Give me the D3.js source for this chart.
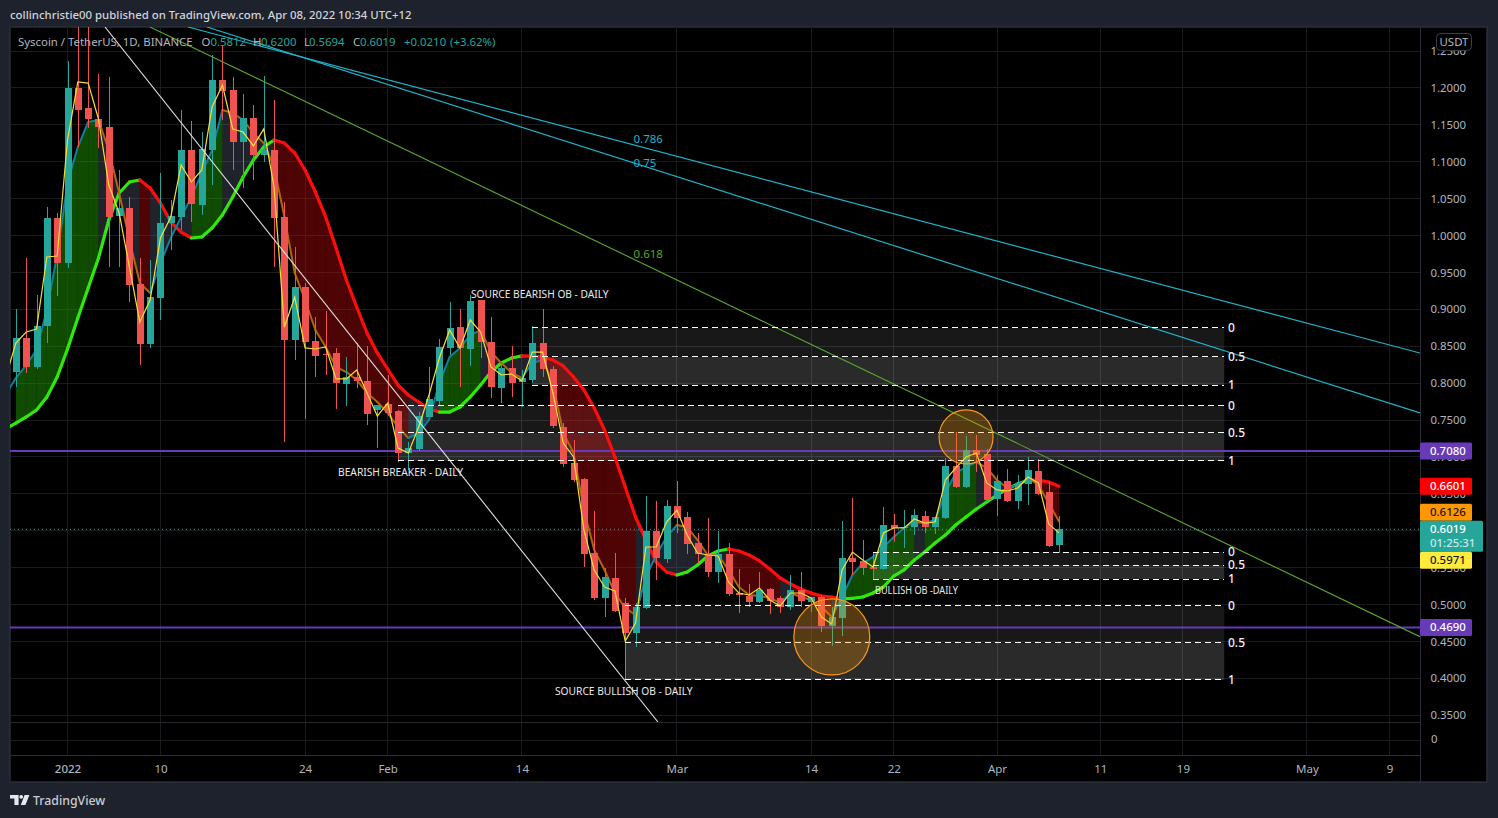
<!DOCTYPE html>
<html><head><meta charset="utf-8">
<script src="https://cdn.jsdelivr.net/npm/d3@7"></script>
<style>html,body{margin:0;padding:0;background:#1e222d;overflow:hidden}svg{display:block}text{font-family:"Noto Sans",sans-serif}</style>
</head><body><svg id="c" width="1498" height="818"></svg>
<script>
// candles start at day -5 (0 = 1 Jan 2022)
const opens=[.8150,.8611,.8218,.8774,1.0237,.9627,1.2000,1.1728,1.1579,1.1470,1.0264,1.0373,.9343,.8530,.9153,1.0169,1.0251,1.1159,1.0413,1.1159,1.2107,1.1972,1.1267,1.1592,1.1091,1.1159,1.0251,.8584,.9302,.8570,.8394,.8408,.7988,.8083,.8029,.7635,.7717,.7622,.7053,.7107,.7541,.7758,.8476,.8760,.8462,.9126,.8557,.7934,.8205,.8015,.8042,.8543,.8191,.7405,.6917,.6700,.5698,.5088,.5359,.5025,.4619,.4958,.5996,.5616,.6335,.6186,.5833,.5684,.5440,.5684,.5156,.5115,.5034,.5210,.5088,.4966,.5197,.5034,.5102,.4709,.4817,.5630,.5589,.5508,.5481,.6077,.6037,.6050,.6199,.6050,.6172,.6877,.6592,.7094,.7039,.6430,.6673,.6402,.6633,.6809,.6524,.5812];
const highs=[.8998,.9695,.9194,1.0386,1.0305,1.2364,1.3056,1.3056,1.2188,1.2148,1.0888,1.0522,.9695,.9668,1.0847,1.0481,1.1700,1.1551,1.1402,1.2446,1.2568,1.2148,1.1917,1.1768,1.2161,1.1836,1.0454,.9844,.9356,.8895,.8977,.8476,.8354,.8543,.8503,.7703,.8110,.7635,.7202,.7608,.8218,.8598,.9099,.9004,.9194,.9126,.8895,.8272,.8503,.8178,.8774,.9004,.8232,.7459,.7229,.6714,.6267,.5495,.5698,.5093,.5025,.6470,.6402,.6416,.6674,.6253,.5969,.6172,.5996,.5833,.5481,.5278,.5440,.5224,.5115,.5400,.5440,.5102,.5129,.4966,.6131,.6443,.5874,.5698,.6321,.6226,.6280,.6294,.6267,.6186,.6985,.7337,.7283,.7297,.7107,.6755,.6836,.6755,.7000,.6972,.6660,.6200];
const lows=[.7947,.8137,.8191,.8543,.9180,.9560,1.1199,1.1457,1.1186,.9573,.9573,.9099,.8245,.8476,.8855,.9803,1.0074,1.0183,1.0278,1.0684,1.1565,1.0888,1.0644,1.0752,1.0996,.9573,.7202,.8313,.7514,.8083,.8110,.7649,.7690,.7934,.7432,.7121,.7554,.6931,.6822,.7080,.7541,.7690,.8381,.7947,.8232,.8340,.7798,.7730,.7811,.7676,.8001,.8083,.7392,.6863,.6660,.5508,.5061,.4831,.4898,.3977,.4424,.4944,.5332,.5562,.5969,.5684,.5562,.5373,.5291,.5115,.4885,.4966,.5020,.4871,.4885,.4925,.4966,.4898,.4627,.4438,.4573,.5400,.5400,.5345,.5467,.5847,.5765,.5942,.5969,.5955,.6159,.6579,.6579,.6795,.6389,.6199,.6389,.6294,.6348,.6484,.5779,.5694];
const closes=[.8611,.8218,.8774,1.0237,.9627,1.2000,1.1700,1.1579,1.1470,1.0251,1.0373,.9329,.8530,.9167,1.0169,1.0264,1.1159,1.0427,1.1172,1.2107,1.1958,1.1267,1.1592,1.1091,1.1159,1.0237,.8584,.9302,.8557,.8367,.8381,.8001,.8083,.8029,.7581,.7703,.7595,.7053,.7121,.7554,.7785,.8489,.8747,.8476,.9112,.8557,.7947,.8205,.8001,.8069,.8543,.8191,.7419,.6904,.6687,.5684,.5088,.5373,.4912,.4619,.4971,.5996,.5630,.6335,.6172,.5820,.5684,.5440,.5684,.5142,.5129,.5034,.5197,.5047,.4966,.5197,.5047,.5102,.4709,.4831,.5630,.5576,.5495,.5481,.6077,.6037,.6050,.6213,.6050,.6186,.6877,.6592,.7094,.7026,.6416,.6673,.6402,.6646,.6822,.6497,.5793,.6019];
// indicator series start at day -6
const slowMA=[.7378,.7459,.7541,.7636,.7812,.8083,.8462,.8882,.9289,.9695,1.0210,1.0576,1.0725,1.0752,1.0644,1.0440,1.0183,1.0047,.9966,.9980,1.0102,1.0278,1.0522,1.0793,1.1023,1.1199,1.1294,1.1253,1.1118,1.0888,1.0589,1.0251,.9831,.9397,.9031,.8679,.8408,.8191,.7974,.7839,.7744,.7649,.7608,.7608,.7676,.7812,.7974,.8150,.8272,.8340,.8368,.8366,.8354,.8313,.8232,.8083,.7907,.7663,.7365,.7000,.6592,.6186,.5874,.5576,.5440,.5400,.5440,.5535,.5657,.5725,.5752,.5725,.5671,.5590,.5481,.5359,.5278,.5210,.5156,.5115,.5102,.5075,.5082,.5102,.5156,.5237,.5386,.5468,.5603,.5711,.5833,.5942,.6077,.6186,.6294,.6389,.6484,.6565,.6633,.6687,.6685,.6660,.6601];
const midMA=[.7839,.8069,.8245,.8449,.8991,.9736,1.0711,1.1199,1.1538,1.1565,1.1159,1.0576,.9939,.9356,.9221,.9627,.9966,1.0251,1.0522,1.0847,1.1159,1.1701,1.1660,1.1565,1.1389,1.1253,1.0928,1.0251,.9492,.9126,.8719,.8489,.8218,.8150,.8042,.7866,.7744,.7595,.7405,.7256,.7324,.7500,.8001,.8354,.8476,.8652,.8719,.8421,.8272,.8137,.8069,.8272,.8313,.8001,.7324,.7053,.6281,.5739,.5467,.5156,.4953,.4858,.5373,.5671,.5915,.6077,.6050,.5874,.5671,.5670,.5467,.5237,.5129,.5115,.5088,.5021,.5156,.5102,.5061,.4966,.4831,.5102,.5400,.5562,.5644,.5779,.5915,.6037,.6118,.6104,.6145,.6511,.6782,.6863,.6931,.6850,.6687,.6579,.6619,.6714,.6619,.6375,.6126];
const fastMA=[.8069,.8543,.8692,.8733,.9709,.9722,1.1294,1.2080,1.2066,1.1579,1.0684,1.0305,.9573,.8828,.9126,.9966,1.0251,1.0955,1.0725,1.0888,1.1741,1.2039,1.1443,1.1402,1.1213,1.1443,1.0657,.8760,.9167,.8476,.8462,.8489,.8056,.8056,.8178,.7866,.7554,.7730,.7121,.7053,.7405,.7839,.8340,.8720,.8476,.8855,.8692,.8218,.8110,.8123,.8029,.8421,.8421,.7866,.7188,.6999,.6010,.5467,.5237,.5183,.4505,.4749,.5779,.5779,.6118,.6280,.5942,.5698,.5671,.5657,.5305,.5156,.5129,.5224,.5061,.4980,.5156,.5156,.5088,.4831,.4736,.5467,.5711,.5603,.5508,.5969,.6037,.6037,.6159,.6104,.6118,.6687,.6850,.6999,.7053,.6647,.6552,.6538,.6579,.6728,.6647,.6091,.5971];
// order-block zones: start day, levels 0 / 0.5 / 1
const zoneStart=[45,32,78,54];
const zoneTop=[.8747,.7690,.5711,.4980];
const zoneMid=[.8354,.7324,.5535,.4479];
const zoneBot=[.7974,.6945,.5345,.3977];
const zoneEnd=112;
// trend lines: [day, price] pairs
const lineWhite=[[3.63,1.2825],[57.17,.3408]];
const lineFib618=[[7.99,1.2825],[130.95,.4564]];
const lineFib786=[[11.67,1.2825],[130.95,.8408]];
const lineFib75=[[13.5,1.2825],[130.95,.7595]];
const fibLabelDay=54.8;
const levels=[.7080,.4690];
const circles=[[87,.727,27],[74,.456,38]];
// axis
const priceTicks=[1.25,1.2,1.15,1.1,1.05,1,.95,.9,.85,.8,.75,.7,.65,.6,.55,.5,.45,.4,.35];
const dayTicks=[0,9,23,31,44,59,72,80,90,100,108,120,128];
const dayLabels=['2022','10','24','Feb','14','Mar','14','22','Apr','11','19','May','9'];

const GRID='#191b1f',LINE='#2a2e39',TXT='#b2b5be',UP='#26a69a',DN='#ef5350';
const svg=d3.select('#c');
const x=d3.scaleLinear().domain([0,96]).range([67.5,1059]);
const y=d3.scaleLinear().domain([.5,1.2]).range([604.5,87.9]);
const L=10,R=1420,T=27,B=722,AX=755,EDGE=1487,BOT=782;
const defs=svg.append('defs');
defs.append('clipPath').attr('id','main').append('rect').attr('x',L).attr('y',T).attr('width',R-L).attr('height',B-T);

svg.append('rect').attr('x',L).attr('y',T).attr('width',EDGE-L).attr('height',BOT-T).attr('fill','#000').attr('stroke',LINE).attr('stroke-width',1.5);

// grid
const grid=svg.append('g').attr('stroke',GRID).attr('stroke-width',1).attr('shape-rendering','crispEdges');
grid.selectAll('.h').data(priceTicks).join('line').attr('x1',L).attr('x2',R).attr('y1',d=>y(d)).attr('y2',d=>y(d));
grid.append('line').attr('x1',L).attr('x2',R).attr('y1',740).attr('y2',740);
grid.selectAll('.v').data(dayTicks).join('line').attr('y1',T).attr('y2',AX).attr('x1',d=>x(d)).attr('x2',d=>x(d));

const chart=svg.append('g').attr('clip-path','url(#main)');

// zones
const zones=zoneStart.map((s,i)=>({s,t:zoneTop[i],m:zoneMid[i],b:zoneBot[i]}));
chart.selectAll('.zu').data(zones).join('rect').attr('x',d=>x(d.s)).attr('width',d=>x(zoneEnd)-x(d.s)).attr('y',d=>y(d.t)).attr('height',d=>y(d.m)-y(d.t)).attr('fill','rgba(255,255,255,.095)');
chart.selectAll('.zl').data(zones).join('rect').attr('x',d=>x(d.s)).attr('width',d=>x(zoneEnd)-x(d.s)).attr('y',d=>y(d.m)).attr('height',d=>y(d.b)-y(d.m)).attr('fill','rgba(255,255,255,.165)');

// ma bands
const d0=-6;
const area=d3.area().x(d=>x(d.day)).y0(d=>y(d.a)).y1(d=>y(d.b));
const segs=[];
for(let i=1;i<slowMA.length-1;i++){
  const sUp=slowMA[i+1]>=slowMA[i], mUp=midMA[i+1]>=midMA[i];
  segs.push({pts:[{day:i+d0,a:slowMA[i],b:midMA[i]},{day:i+1+d0,a:slowMA[i+1],b:midMA[i+1]}],
    fill:sUp&&mUp?'rgba(34,170,0,.44)':(!sUp&&!mUp?'rgba(200,10,10,.39)':'rgba(120,130,160,.27)')});
}
chart.selectAll('.band').data(segs).join('path').attr('d',d=>area(d.pts)).attr('fill',d=>d.fill);

// horizontal levels
chart.selectAll('.lv').data(levels).join('line').attr('x1',L).attr('x2',R).attr('y1',d=>y(d)).attr('y2',d=>y(d)).attr('stroke','#673ab7').attr('stroke-width',2);
const lastClose=closes[closes.length-1];
svg.append('line').attr('x1',L).attr('x2',R).attr('y1',y(lastClose)).attr('y2',y(lastClose)).attr('stroke',UP).attr('stroke-width',1).attr('stroke-dasharray','1 3');

// colored ma segments
const lineGen=d3.line().x(d=>x(d[0])).y(d=>y(d[1]));
function segLine(vals,up,dn,w){
  const s=[];
  for(let i=0;i<vals.length-1;i++) s.push({p:[[i+d0,vals[i]],[i+1+d0,vals[i+1]]],c:vals[i+1]>=vals[i]?up:dn});
  chart.append('g').attr('fill','none').attr('stroke-width',w).attr('stroke-linecap','round').selectAll('path').data(s).join('path').attr('d',d=>lineGen(d.p)).attr('stroke',d=>d.c);
}
segLine(slowMA,'#2fe80d','#ff0d0d',3.2);
segLine(midMA,'#127f99','#b0650c',2);

// candles
const candles=opens.map((o,i)=>({day:i-5,o,h:highs[i],l:lows[i],c:closes[i]}));
const cg=chart.append('g').attr('shape-rendering','crispEdges');
cg.selectAll('.w').data(candles).join('line').attr('x1',d=>Math.round(x(d.day))+.5).attr('x2',d=>Math.round(x(d.day))+.5).attr('y1',d=>y(d.h)).attr('y2',d=>y(d.l)).attr('stroke',d=>d.c>=d.o?UP:DN).attr('stroke-width',1);
cg.selectAll('.b').data(candles).join('rect').attr('x',d=>Math.round(x(d.day))-3).attr('width',7).attr('y',d=>y(Math.max(d.o,d.c))).attr('height',d=>Math.max(1,Math.abs(y(d.o)-y(d.c)))).attr('fill',d=>d.c>=d.o?UP:DN);

// fast ma
chart.append('path').attr('d',d3.line().x((d,i)=>x(i+d0)).y(d=>y(d))(fastMA)).attr('fill','none').attr('stroke','#f5de3a').attr('stroke-width',1.2);

// trend lines
[[lineWhite,'#e2e2e2',1.1],[lineFib618,'#58a82f',1.1],[lineFib786,'#1fb2cc',1.2],[lineFib75,'#1fb2cc',1.2]].forEach(([l,c,w])=>{
  chart.append('path').attr('d',lineGen(l)).attr('stroke',c).attr('stroke-width',w).attr('fill','none');
});

// zone dashed lines + labels
const zl=svg.append('g');
zones.forEach(z=>{
  [[z.t,'0'],[z.m,'0.5'],[z.b,'1']].forEach(([v,t])=>{
    zl.append('line').attr('x1',x(z.s)).attr('x2',x(zoneEnd)).attr('y1',y(v)).attr('y2',y(v)).attr('stroke','#fff').attr('stroke-width',1).attr('stroke-dasharray','6 4').attr('shape-rendering','crispEdges');
    zl.append('text').attr('x',1228).attr('y',y(v)+4).attr('fill','#f0f0f0').attr('font-size',12).attr('font-weight',500).text(t);
  });
});

// circles
svg.selectAll('.circ').data(circles).join('circle').attr('cx',d=>x(d[0])).attr('cy',d=>y(d[1])).attr('r',d=>d[2]).attr('fill','rgba(255,152,0,.27)').attr('stroke','#f7981d').attr('stroke-width',1.2);

// fib labels
const fibs=[['0.786',1.131,'#1fb2cc'],['0.75',1.0985,'#1fb2cc'],['0.618',.9754,'#5aa52d']];
svg.selectAll('.fib').data(fibs).join('text').attr('x',x(fibLabelDay)).attr('y',d=>y(d[1])+4).attr('fill',d=>d[2]).attr('font-size',11.5).text(d=>d[0]);

// annotations
const notes=[['SOURCE BEARISH OB - DAILY',471,298],['BEARISH BREAKER - DAILY',338,476],['SOURCE BULLISH OB - DAILY',555,695],['BULLISH OB -DAILY',875,594]];
svg.selectAll('.note').data(notes).join('text').attr('x',d=>d[1]).attr('y',d=>d[2]).attr('fill','#eaeaea').attr('font-size',10.5).attr('textLength',d=>({25:137.5,23:125,17:83})[d[0].length]).attr('lengthAdjust','spacingAndGlyphs').text(d=>d[0]);

// pane separators
svg.append('line').attr('x1',L).attr('x2',R).attr('y1',B+.5).attr('y2',B+.5).attr('stroke','#26282d');
svg.append('line').attr('x1',L).attr('x2',R).attr('y1',AX+.5).attr('y2',AX+.5).attr('stroke',LINE);
svg.append('line').attr('x1',R+.5).attr('x2',R+.5).attr('y1',T).attr('y2',BOT).attr('stroke',LINE);

// axes
const yAxis=d3.axisRight(y).tickValues(priceTicks).tickSize(0).tickPadding(10.5).tickFormat(d3.format('.4f'));
const gy=svg.append('g').attr('transform',`translate(${R},0)`).call(yAxis);
gy.select('.domain').remove();
gy.selectAll('text').attr('fill',TXT).attr('font-size',11.4).attr('font-family','"Noto Sans",sans-serif');
svg.append('text').attr('x',1431).attr('y',743).attr('fill',TXT).attr('font-size',11.4).text('0');

const xAxis=d3.axisBottom(x).tickValues(dayTicks).tickSize(0).tickPadding(10).tickFormat((d,i)=>dayLabels[i]);
const gx=svg.append('g').attr('transform',`translate(0,${AX})`).call(xAxis);
gx.select('.domain').remove();
gx.selectAll('text').attr('fill',TXT).attr('font-size',11.5).attr('font-family','"Noto Sans",sans-serif').attr('font-weight',(d,i)=>i==0?500:400);

// USDT badge
svg.append('rect').attr('x',1436.5).attr('y',33.5).attr('width',35).attr('height',17).attr('rx',4).attr('fill','#000').attr('stroke','#3a3e48');
svg.append('text').attr('x',1454).attr('y',46).attr('text-anchor','middle').attr('fill',TXT).attr('font-size',11.4).text('USDT');

// price labels
const H=17,W=52;
function tag(py,val,bg,fg,w=W,h=H){
  svg.append('rect').attr('x',R).attr('y',py).attr('width',w).attr('height',h).attr('rx',1.5).attr('fill',bg);
  svg.append('text').attr('x',1430).attr('y',py+12.5).attr('fill',fg).attr('font-size',11.4).attr('font-weight',500).text(val);
}
const fmt=d3.format('.4f');
levels.forEach(v=>tag(y(v)-H/2,fmt(v),'#673ab7','#fff'));
const lastSlow=slowMA[slowMA.length-1],lastMid=midMA[midMA.length-1],lastFast=fastMA[fastMA.length-1];
tag(y(lastSlow)-H/2,fmt(lastSlow),'#ff0000','#fff');
const tealTop=y(lastClose)-H/2;
tag(tealTop-H,fmt(lastMid),'#ff9800','#131722');
tag(tealTop,fmt(lastClose),UP,'#fff',63,31);
svg.append('text').attr('x',1430).attr('y',tealTop+26.5).attr('fill','#c9ebe7').attr('font-size',11.4).attr('font-weight',500).text('01:25:31');
tag(tealTop+31,fmt(lastFast),'#ffeb3b','#131722');

// legend
const lg=svg.append('text').attr('y',46).attr('font-size',11.4);
const leg=[['Syscoin / TetherUS, 1D, BINANCE',18,TXT],['O',201.5,TXT],['0.5812',210.5,UP],['H',253,TXT],['0.6200',261,UP],['L',304,TXT],['0.5694',309,UP],['C',353,TXT],['0.6019',360,UP],['+0.0210',404,UP],['(+3.62%)',450,UP]];
lg.selectAll('tspan').data(leg).join('tspan').attr('x',d=>d[1]).attr('fill',d=>d[2]).text(d=>d[0]);

// header & footer
svg.append('text').attr('x',10).attr('y',19).attr('fill','#d1d4dc').attr('font-size',11.4).attr('font-weight',500).text('collinchristie00 published on TradingView.com, Apr 08, 2022 10:34 UTC+12');
svg.append('path').attr('fill','#e6e8ee').attr('d','M10 795H18.6V805H14.4V798.6H10ZM21.2 795a1.9 1.9 0 1 1 -.01 0ZM24.6 795H29.4L25.4 805H20.8Z');
svg.append('text').attr('x',33).attr('y',805).attr('fill','#c9ccd4').attr('font-size',12.3).attr('font-weight',500).text('TradingView');
</script></body></html>
